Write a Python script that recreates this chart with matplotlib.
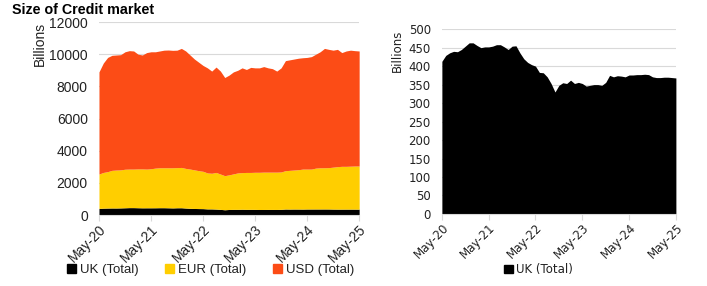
import matplotlib.pyplot as plt
import numpy as np
from matplotlib.patches import Patch

# monthly readings, May-20 .. May-25 (61 points), billions
uk = [413, 429, 436, 440, 439, 445, 454, 463, 463, 456, 450, 452, 452, 454, 458, 458,
      452, 445, 454, 455, 436, 420, 410, 404, 400, 383, 382, 371, 353, 330, 348, 355,
      353, 362, 353, 356, 353, 346, 348, 350, 350, 348, 356, 375, 371, 374, 373, 371,
      376, 376, 377, 377, 378, 377, 371, 369, 369, 370, 370, 369, 368]
eur = [2137, 2221, 2264, 2340, 2361, 2365, 2396, 2397, 2397, 2414, 2420, 2408, 2428,
       2466, 2482, 2482, 2488, 2495, 2496, 2505, 2464, 2440, 2400, 2356, 2320, 2237,
       2218, 2279, 2197, 2120, 2152, 2205, 2267, 2278, 2297, 2294, 2307, 2314, 2322,
       2320, 2320, 2322, 2324, 2385, 2409, 2426, 2447, 2489, 2484, 2484, 2543, 2563,
       2562, 2573, 2609, 2641, 2661, 2660, 2670, 2681, 2682]
usd = [6350, 6800, 7100, 7150, 7150, 7160, 7300, 7360, 7340, 7130, 7080, 7240, 7270,
       7230, 7260, 7310, 7320, 7300, 7300, 7400, 7300, 7090, 6890, 6740, 6580, 6530,
       6350, 6550, 6400, 6100, 6200, 6340, 6380, 6510, 6400, 6530, 6490, 6490, 6560,
       6480, 6430, 6280, 6470, 6840, 6870, 6900, 6930, 6920, 6940, 6990, 7080, 7210,
       7420, 7350, 7270, 7290, 7070, 7170, 7210, 7170, 7150]
tick_labels = ['May-20', 'May-21', 'May-22', 'May-23', 'May-24', 'May-25']

c_uk, c_eur, c_usd = '#000000', '#FFCE00', '#FC4C16'
grid_c = '#D9D9D9'
txt_c = '#222222'

months = np.arange(len(uk))
uk = np.array(uk)
eur = np.array(eur)
usd = np.array(usd)

fig = plt.figure(figsize=(7.07, 2.86), dpi=100)


def style_axis(ax, fam, fs, lpad):
    for s in ['left', 'right', 'top']:
        ax.spines[s].set_visible(False)
    ax.spines['bottom'].set_color(grid_c)
    ax.yaxis.grid(True, color=grid_c, lw=0.8)
    ax.set_axisbelow(True)
    ax.tick_params(axis='y', length=0, colors=txt_c, labelsize=fs, pad=8)
    ax.tick_params(axis='x', length=4, color=grid_c, colors=txt_c, labelsize=fs, pad=1)
    ax.set_xlim(0, 60)
    ax.set_xticks(np.arange(0, 61, 12))
    ax.set_xticklabels(tick_labels, rotation=45, ha='right', rotation_mode='anchor',
                       family=fam)
    for lb in ax.get_yticklabels():
        lb.set_family(fam)
    ax.set_ylabel('Billions', loc='top', family=fam, fontsize=fs, color=txt_c, labelpad=lpad)


# left: stacked credit market
ax1 = fig.add_axes([0.140, 0.248, 0.368, 0.675])
base1 = uk
base2 = uk + eur
base3 = uk + eur + usd
ax1.fill_between(months, 0, base1, color=c_uk, lw=0)
ax1.fill_between(months, base1, base2, color=c_eur, lw=0)
ax1.fill_between(months, base2, base3, color=c_usd, lw=0)
ax1.set_ylim(0, 12000)
ax1.set_yticks(np.arange(0, 12001, 2000))
style_axis(ax1, 'Liberation Sans', 10, 1.5)

fig.text(0.017, 0.99, 'Size of Credit market', fontsize=10.3, fontweight='bold',
         family='Liberation Sans', va='top', ha='left', color='#000000')

h1 = [Patch(color=c_uk), Patch(color=c_eur), Patch(color=c_usd)]
fig.legend(h1, ['UK (Total)', 'EUR (Total)', 'USD (Total)'], loc='center',
           bbox_to_anchor=(0.298, 0.057), ncol=3, frameon=False,
           handlelength=0.7, handleheight=0.7, handletextpad=0.3, columnspacing=2.0,
           prop={'family': 'Liberation Sans', 'size': 9.5}, labelcolor=txt_c)

# right: UK only
ax2 = fig.add_axes([0.625, 0.252, 0.331, 0.646])
ax2.fill_between(months, 0, uk, color=c_uk, lw=0)
ax2.set_ylim(0, 500)
ax2.set_yticks(np.arange(0, 501, 50))
style_axis(ax2, 'DejaVu Sans', 8.5, 3.5)

fig.legend([Patch(color=c_uk)], ['UK (Total)'], loc='center',
           bbox_to_anchor=(0.762, 0.057), frameon=False,
           handlelength=0.7, handleheight=0.7, handletextpad=0.3,
           prop={'family': 'DejaVu Sans', 'size': 8.5}, labelcolor=txt_c)

fig.savefig('out.png', dpi=100)
